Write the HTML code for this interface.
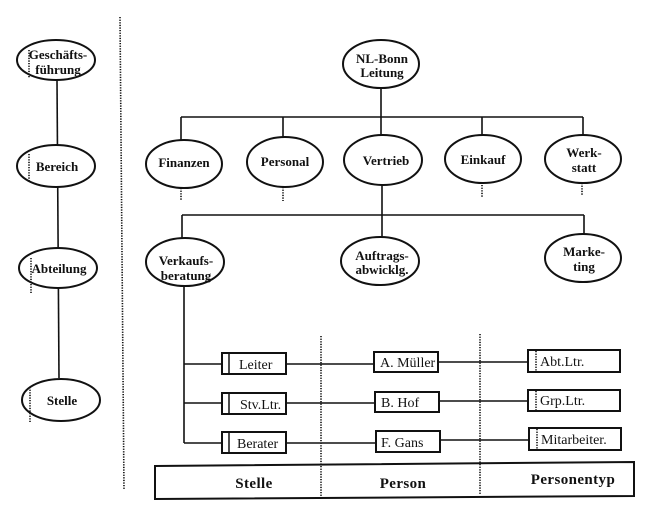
<!DOCTYPE html>
<html><head><meta charset="utf-8"><style>
html,body{margin:0;padding:0;background:#fff;}
svg{display:block;}
.b{font-family:"Liberation Serif",serif;font-weight:bold;font-size:13px;fill:#111;text-anchor:middle;}
.r{font-family:"Liberation Serif",serif;font-size:14px;fill:#111;}
.f{font-family:"Liberation Serif",serif;font-weight:bold;font-size:15px;fill:#111;text-anchor:middle;letter-spacing:0.4px;}
</style></head><body>
<svg width="650" height="510" viewBox="0 0 650 510" xmlns="http://www.w3.org/2000/svg">
<g fill="none" stroke="#111">
<!-- connectors -->
<path d="M57 80 L59 378" stroke-width="1.6"/>
<path d="M381 88 V117 M181 117 H583 M181 117 V140 M283 117 V137 M381 117 V135 M482 117 V135 M583 117 V135" stroke-width="1.6"/>
<path d="M382 185 V237 M182 215 H584 M182 215 V238 M584 215 V234" stroke-width="1.6"/>
<path d="M184 285 V443 M184 364 H222 M184 403 H222 M184 443 H222" stroke-width="1.6"/>
<path d="M286 364 H374 M286 403 H375 M286 443 H376" stroke-width="1.6"/>
<path d="M438 362 H528 M439 401 H528 M440 440 H529" stroke-width="1.6"/>
</g>
<g fill="#fff" stroke="#111" stroke-width="2">
<ellipse cx="56" cy="60" rx="39" ry="20"/>
<ellipse cx="56" cy="166" rx="39" ry="21"/>
<ellipse cx="58" cy="268" rx="39" ry="20"/>
<ellipse cx="61" cy="400" rx="39" ry="21"/>
<ellipse cx="381" cy="64" rx="38" ry="24"/>
<ellipse cx="184" cy="164" rx="38" ry="24"/>
<ellipse cx="285" cy="162" rx="38" ry="25"/>
<ellipse cx="383" cy="160" rx="39" ry="25"/>
<ellipse cx="483" cy="159" rx="38" ry="24"/>
<ellipse cx="583" cy="159" rx="38" ry="24"/>
<ellipse cx="185" cy="262" rx="39" ry="24"/>
<ellipse cx="380" cy="261" rx="39" ry="24"/>
<ellipse cx="583" cy="258" rx="38" ry="24"/>
<rect x="222" y="353" width="64" height="21"/>
<rect x="222" y="393" width="64" height="21"/>
<rect x="222" y="432" width="64" height="21"/>
<rect x="374" y="352" width="64" height="20"/>
<rect x="375" y="392" width="64" height="20"/>
<rect x="376" y="431" width="64" height="21"/>
<rect x="528" y="350" width="92" height="22"/>
<rect x="528" y="390" width="92" height="21"/>
<rect x="529" y="428" width="92" height="22"/>
<polygon points="155,466 634,462 634,496 155,499"/>
</g>
<g fill="none" stroke="#111">
<path d="M229 353 V374 M229 393 V414 M229 432 V453" stroke-width="1.5"/>
<g stroke-width="1.6" stroke-dasharray="1.3 1.3">
<path d="M29 50 V78"/>
<path d="M29 154 V181"/>
<path d="M31 258 V293"/>
<path d="M30 387 V422"/>
<path d="M120 17 L124 490"/>
<path d="M181 188 V201"/>
<path d="M283 187 V201"/>
<path d="M482 185 V198"/>
<path d="M582 183 V196"/>
<path d="M321 336 V497"/>
<path d="M480 334 V495"/>
<path d="M536 351 V371"/>
<path d="M536 391 V410"/>
<path d="M537 429 V449"/>
</g>
</g>
<!-- labels -->
<text class="b" x="58" y="59">Geschäfts-</text>
<text class="b" x="58" y="74">führung</text>
<text class="b" x="57" y="171">Bereich</text>
<text class="b" x="59" y="273">Abteilung</text>
<text class="b" x="62" y="405">Stelle</text>
<text class="b" x="382" y="63">NL-Bonn</text>
<text class="b" x="382" y="77">Leitung</text>
<text class="b" x="184" y="167">Finanzen</text>
<text class="b" x="285" y="166">Personal</text>
<text class="b" x="386" y="165">Vertrieb</text>
<text class="b" x="483" y="164">Einkauf</text>
<text class="b" x="584" y="157">Werk-</text>
<text class="b" x="584" y="172">statt</text>
<text class="b" x="186" y="265">Verkaufs-</text>
<text class="b" x="186" y="280">beratung</text>
<text class="b" x="382" y="260">Auftrags-</text>
<text class="b" x="382" y="274">abwicklg.</text>
<text class="b" x="584" y="256">Marke-</text>
<text class="b" x="584" y="271">ting</text>
<text class="r" x="239" y="369">Leiter</text>
<text class="r" x="240" y="409">Stv.Ltr.</text>
<text class="r" x="237" y="448">Berater</text>
<text class="r" x="380" y="367">A. Müller</text>
<text class="r" x="381" y="407">B. Hof</text>
<text class="r" x="381" y="447">F. Gans</text>
<text class="r" x="540" y="366">Abt.Ltr.</text>
<text class="r" x="540" y="405">Grp.Ltr.</text>
<text class="r" x="541" y="444">Mitarbeiter.</text>
<text class="f" x="254" y="488">Stelle</text>
<text class="f" x="403" y="488">Person</text>
<text class="f" x="573" y="484">Personentyp</text>
</svg>
</body></html>
